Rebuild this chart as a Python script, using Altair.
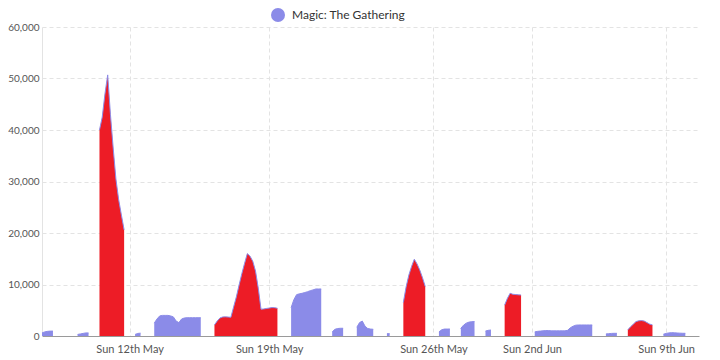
import altair as alt
import pandas as pd

BLUE = "#8b8be8"
RED = "#ed1c26"
SERIES = "Magic: The Gathering"

# Sunday label positions (category index) and their texts
sunday_idx = [32, 83, 143, 179, 228]
sunday_labels = ["Sun 12th May", "Sun 19th May", "Sun 26th May", "Sun 2nd Jun", "Sun 9th Jun"]

# contiguous data runs (gaps = missing values)
seg_start = [0, 13, 21, 34, 41, 63, 91, 106, 115, 126, 132, 145, 153, 162, 169, 180, 206, 214, 227]
seg_kind = ["normal", "normal", "weekend", "normal", "normal", "weekend", "normal", "normal",
            "normal", "normal", "weekend", "normal", "normal", "normal", "weekend", "normal",
            "normal", "weekend", "normal"]
seg_values = [
    [600, 800, 900, 950, 950],
    [300, 400, 500, 600, 600],
    [40000, 42500, 47000, 50700, 43000, 36500, 30500, 26500, 23500, 20600],
    [300, 500, 550],
    [2500, 3300, 3900, 4000, 4000, 4000, 3900, 3700, 2900, 2600, 3300, 3500, 3550, 3550,
     3550, 3550, 3550, 3550],
    [2150, 2900, 3500, 3700, 3720, 3680, 3630, 5650, 7600, 9900, 12100, 14100, 16000, 15500,
     14500, 12600, 9300, 5200, 5250, 5350, 5420, 5520, 5500, 5380],
    [5500, 7050, 8030, 8180, 8290, 8440, 8600, 8800, 8950, 9130, 9130, 9130],
    [800, 1300, 1450, 1500, 1500],
    [1700, 2600, 2900, 1900, 1450, 1350, 1300],
    [450, 450],
    [6500, 9500, 11800, 13500, 14900, 14000, 12800, 11300, 9600],
    [800, 1200, 1350, 1350, 1360],
    [1500, 2100, 2500, 2700, 2780, 2800],
    [950, 1100, 1160],
    [6000, 7300, 8300, 8100, 8050, 8000, 7950],
    [800, 900, 950, 1000, 1050, 1050, 1000, 1000, 1000, 1000, 1000, 1000, 1100, 1600, 1900,
     2100, 2140, 2140, 2140, 2140, 2140, 2140],
    [400, 450, 500, 520, 520],
    [1200, 1800, 2300, 2800, 2950, 3000, 2900, 2600, 2300, 2150],
    [350, 500, 600, 650, 620, 580, 550, 530, 520],
]

rows = []
for s, (start, kind, vals) in enumerate(zip(seg_start, seg_kind, seg_values)):
    for k, v in enumerate(vals):
        rows.append({"idx": start + k, "value": v, "seg": s, "kind": kind, "series": SERIES})
df = pd.DataFrame(rows)

label_expr = " : ".join(
    f"datum.value == {i} ? '{t}'" for i, t in zip(sunday_idx, sunday_labels)
) + " : ''"

x_enc = alt.X(
    "idx:Q",
    scale=alt.Scale(domain=[0, 240], nice=False, zero=False),
    axis=alt.Axis(
        values=sunday_idx, labelExpr=label_expr, title=None, grid=True,
        gridDash=[4, 3], gridColor="#e3e3e3", ticks=False, domainColor="#9a9a9a",
        labelColor="#555555", labelFontSize=11, labelPadding=7, labelFont="Lato",
    ),
)
y_enc = alt.Y(
    "value:Q",
    stack=False,
    scale=alt.Scale(domain=[0, 60000], nice=False),
    axis=alt.Axis(
        values=[0, 10000, 20000, 30000, 40000, 50000, 60000], format=",d", title=None,
        grid=True, gridDash=[4, 3], gridColor="#e3e3e3", ticks=False, domainColor="#e3e3e3",
        labelColor="#555555", labelFontSize=10, labelPadding=3, labelFont="Lato",
    ),
)

base = alt.Chart(df)

blue_area = base.transform_filter(alt.datum.kind == "normal").mark_area(opacity=1).encode(
    x=x_enc, y=y_enc, detail="seg:N",
    color=alt.Color(
        "series:N",
        scale=alt.Scale(domain=[SERIES], range=[BLUE]),
        legend=alt.Legend(
            title=None, orient="none", legendX=229, legendY=-19, symbolType="circle",
            symbolSize=196, symbolStrokeWidth=0, labelFontSize=12, labelColor="#333333",
            labelFont="Lato", labelOffset=7,
        ),
    ),
)
red_area = base.transform_filter(alt.datum.kind == "weekend").mark_area(
    opacity=1, color=RED
).encode(x=x_enc, y=y_enc, detail="seg:N")
line = base.mark_line(color=BLUE, strokeWidth=1).encode(x=x_enc, y=y_enc, detail="seg:N")

chart = alt.layer(blue_area, red_area, line).properties(
    width=657, height=309,
    autosize=alt.AutoSizeParams(type="none"),
    padding={"left": 34, "top": 19, "right": 13, "bottom": 24},
).configure_view(stroke=None)

chart.save("out.html", embed_options={"renderer": "svg", "actions": False})
